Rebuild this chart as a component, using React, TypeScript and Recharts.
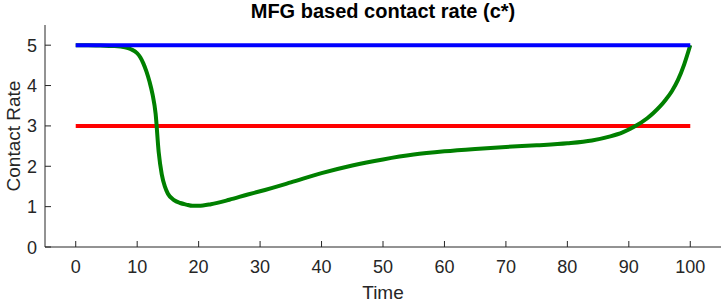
import { LineChart, Line, XAxis, YAxis } from 'recharts';

// c* from the MFG solution
const times = [0, 2, 4, 6, 8, 9, 10, 10.5, 11, 11.5, 12, 12.5, 13, 13.5, 14, 14.5, 15, 16, 17, 18, 19, 20, 22, 25, 28, 30, 35, 40, 45, 50, 55, 60, 65, 70, 75, 80, 84, 87, 89, 91, 93, 94, 95, 96, 97, 98, 99, 100];
const mfgRate = [5.0, 5.0, 4.99, 4.98, 4.95, 4.9, 4.8, 4.7, 4.55, 4.35, 4.1, 3.78, 3.3, 2.35, 1.8, 1.5, 1.32, 1.16, 1.09, 1.05, 1.02, 1.02, 1.06, 1.17, 1.3, 1.38, 1.6, 1.83, 2.02, 2.17, 2.29, 2.37, 2.43, 2.48, 2.52, 2.57, 2.64, 2.74, 2.84, 2.99, 3.19, 3.32, 3.47, 3.65, 3.86, 4.14, 4.52, 5.0];

const constTimes = [0, 100];
const lowRate = [3, 3];
const highRate = [5, 5];

const xTicks = [0, 10, 20, 30, 40, 50, 60, 70, 80, 90, 100];
const yTicks = [0, 1, 2, 3, 4, 5];

const greenData = times.map((t, i) => ({ t, v: mfgRate[i] }));
const redData = constTimes.map((t, i) => ({ t, v: lowRate[i] }));
const blueData = constTimes.map((t, i) => ({ t, v: highRate[i] }));

const AXIS = '#262626';
const FONT = '"Liberation Sans", Arial, Helvetica, sans-serif';

const BottomTick = (props: any) => {
  const { x, y, payload } = props;
  return (
    <g>
      <line x1={x} y1={y} x2={x} y2={y - 6} stroke={AXIS} />
      <text x={x} y={y + 26} textAnchor="middle" fill={AXIS} fontSize={18} fontFamily={FONT}>
        {payload.value}
      </text>
    </g>
  );
};

const TopTick = (props: any) => {
  const { x, y } = props;
  return <line x1={x} y1={y} x2={x} y2={y + 6} stroke={AXIS} />;
};

const LeftTick = (props: any) => {
  const { x, y, payload } = props;
  return (
    <g>
      <line x1={x} y1={y} x2={x + 6} y2={y} stroke={AXIS} />
      <text x={x - 8} y={y + 6.5} textAnchor="end" fill={AXIS} fontSize={18} fontFamily={FONT}>
        {payload.value}
      </text>
    </g>
  );
};

const RightTick = (props: any) => {
  const { x, y } = props;
  return <line x1={x} y1={y} x2={x - 6} y2={y} stroke={AXIS} />;
};

export default function App() {
  return (
    <div style={{ position: 'fixed', left: 0, top: 0, width: 724, height: 303, background: '#fff' }}>
      <LineChart width={724} height={303} margin={{ top: 25, right: 3, bottom: 0, left: 0 }}>
        <text x={383} y={18} textAnchor="middle" fontSize={20} fontWeight="bold" fontFamily={FONT} fill="#000">
          MFG based contact rate (c*)
        </text>
        <text
          x={20}
          y={136}
          transform="rotate(-90 20 136)"
          textAnchor="middle"
          fontSize={19}
          fontFamily={FONT}
          fill={AXIS}
        >
          Contact Rate
        </text>
        <text x={383} y={299} textAnchor="middle" fontSize={19} fontFamily={FONT} fill={AXIS}>
          Time
        </text>

        <XAxis
          dataKey="t"
          type="number"
          domain={[-5, 105]}
          ticks={xTicks}
          height={56}
          tickSize={0}
          tickMargin={0}
          tickLine={false}
          axisLine={{ stroke: AXIS }}
          tick={<BottomTick />}
          interval={0}
        />
        <XAxis
          xAxisId="top"
          orientation="top"
          dataKey="t"
          type="number"
          domain={[-5, 105]}
          ticks={xTicks}
          height={0}
          tickSize={0}
          tickMargin={0}
          tickLine={false}
          axisLine={{ stroke: AXIS }}
          tick={<TopTick />}
          interval={0}
        />
        <YAxis
          dataKey="v"
          type="number"
          domain={[0, 5.5]}
          ticks={yTicks}
          width={45}
          tickSize={0}
          tickMargin={0}
          tickLine={false}
          axisLine={{ stroke: AXIS }}
          tick={<LeftTick />}
          interval={0}
        />
        <YAxis
          yAxisId="right"
          orientation="right"
          dataKey="v"
          type="number"
          domain={[0, 5.5]}
          ticks={yTicks}
          width={0}
          tickSize={0}
          tickMargin={0}
          tickLine={false}
          axisLine={{ stroke: AXIS }}
          tick={<RightTick />}
          interval={0}
        />

        <Line data={redData} dataKey="v" stroke="#ff0000" strokeWidth={4} dot={false} isAnimationActive={false} />
        <Line data={greenData} dataKey="v" type="monotone" stroke="#008000" strokeWidth={4} dot={false} isAnimationActive={false} />
        <Line data={blueData} dataKey="v" stroke="#0000ff" strokeWidth={4} dot={false} isAnimationActive={false} />
      </LineChart>
    </div>
  );
}
